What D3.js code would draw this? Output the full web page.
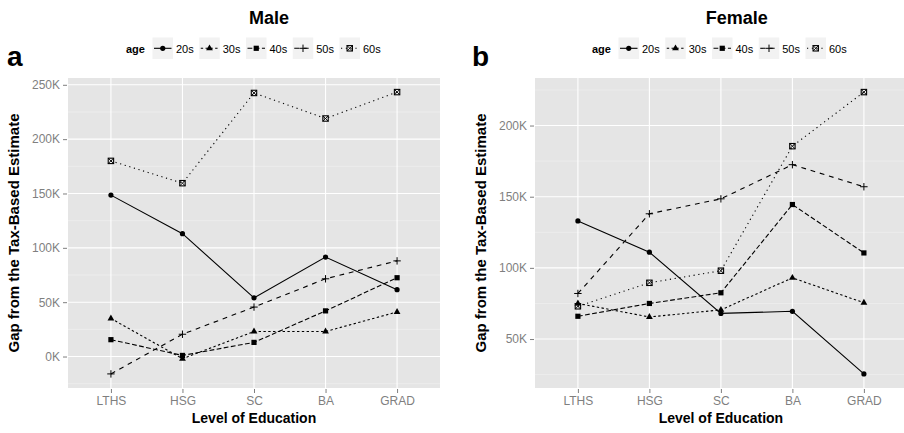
<!DOCTYPE html>
<html>
<head>
<meta charset="utf-8">
<script src="https://cdn.jsdelivr.net/npm/d3@7"></script>
<style>
  body { margin: 0; background: #fff; }
  svg { display: block; font-family: "Liberation Sans", Arial, Helvetica, sans-serif; }
</style>
</head>
<body>
<div id="chart"></div>
<script>
// Data (values in thousands)
const categories = ["LTHS", "HSG", "SC", "BA", "GRAD"];
const ages = ["20s", "30s", "40s", "50s", "60s"];

const male20s = [148.5, 113, 54, 91.5, 61.5];
const male30s = [35, -2, 23, 23, 41];
const male40s = [15.5, 1, 13, 42, 72.5];
const male50s = [-16, 20.5, 45.5, 71.5, 88];
const male60s = [180, 159.5, 242.5, 219, 243.3];

const female20s = [133, 111, 68, 69.5, 25.5];
const female30s = [75, 65.5, 70.5, 93, 75.5];
const female40s = [66, 75, 82.5, 144.5, 110.5];
const female50s = [82, 138, 148.5, 172.5, 157];
const female60s = [73, 89.5, 98, 185.5, 223.5];

const maleTicks = [0, 50, 100, 150, 200, 250];
const femaleTicks = [50, 100, 150, 200];

const dims = { width: 904, height: 433, top: 78, bottom: 388 };

// linetypes like ggplot's default palette: solid, 22, 42, 44, 13
const dashes = { "20s": null, "30s": "2.4,2.4", "40s": "4.8,2.4", "50s": "4.8,4.8", "60s": "1.2,3.6" };

const svg = d3.select("#chart")
  .append("svg")
  .attr("width", dims.width)
  .attr("height", dims.height);

function drawMarker(g, age, x, y) {
  const m = g.append("g").attr("transform", `translate(${x},${y})`);
  if (age === "20s") {
    m.append("circle").attr("r", 2.6).attr("fill", "#000");
  } else if (age === "30s") {
    m.append("path").attr("d", d3.symbol(d3.symbolTriangle, 20)()).attr("fill", "#000");
  } else if (age === "40s") {
    m.append("rect").attr("x", -2.6).attr("y", -2.6).attr("width", 5.2).attr("height", 5.2).attr("fill", "#000");
  } else if (age === "50s") {
    m.append("path").attr("d", "M-3.7,0H3.7M0,-3.7V3.7").attr("stroke", "#000").attr("stroke-width", 1);
  } else {
    m.append("rect").attr("x", -2.7).attr("y", -2.7).attr("width", 5.4).attr("height", 5.4)
      .attr("fill", "none").attr("stroke", "#000").attr("stroke-width", 1.1);
    m.append("path").attr("d", "M-2.7,-2.7L2.7,2.7M2.7,-2.7L-2.7,2.7")
      .attr("stroke", "#000").attr("stroke-width", 0.9);
  }
}

function drawPanel(opts) {
  const { x0, x1, series, ticks, title, letter, letterX, titleX, legendX, yTitleX } = opts;
  const g = svg.append("g");

  const all = series.flat();
  const [lo, hi] = d3.extent(all);
  const pad = (hi - lo) * 0.05;

  const x = d3.scalePoint().domain(categories).range([x0, x1]).padding(0.6);
  const y = d3.scaleLinear().domain([lo - pad, hi + pad]).range([dims.bottom, dims.top]);

  // panel background
  g.append("rect")
    .attr("x", x0).attr("y", dims.top)
    .attr("width", x1 - x0).attr("height", dims.bottom - dims.top)
    .attr("fill", "#E5E5E5");

  // minor grid
  const step = ticks[1] - ticks[0];
  const minor = d3.range(ticks[0] - step / 2, ticks[ticks.length - 1] + step, step)
    .filter((v) => v > lo - pad && v < hi + pad);
  g.selectAll("line.minor").data(minor).enter().append("line")
    .attr("x1", x0).attr("x2", x1)
    .attr("y1", (d) => y(d)).attr("y2", (d) => y(d))
    .attr("stroke", "#F2F2F2").attr("stroke-width", 0.6);

  // major grid
  g.selectAll("line.hmaj").data(ticks).enter().append("line")
    .attr("x1", x0).attr("x2", x1)
    .attr("y1", (d) => y(d)).attr("y2", (d) => y(d))
    .attr("stroke", "#fff").attr("stroke-width", 1.1);
  g.selectAll("line.vmaj").data(categories).enter().append("line")
    .attr("x1", (d) => x(d)).attr("x2", (d) => x(d))
    .attr("y1", dims.top).attr("y2", dims.bottom)
    .attr("stroke", "#fff").attr("stroke-width", 1.1);

  // axes
  const yAxis = g.append("g")
    .attr("transform", `translate(${x0 - 1},0)`)
    .call(d3.axisLeft(y).tickValues(ticks).tickFormat((d) => `${d}K`).tickSize(4).tickPadding(3));
  const xAxis = g.append("g")
    .attr("transform", `translate(0,${dims.bottom + 1})`)
    .call(d3.axisBottom(x).tickSize(4).tickPadding(3));
  [yAxis, xAxis].forEach((a) => {
    a.select(".domain").remove();
    a.selectAll(".tick line").attr("stroke", "#7F7F7F");
    a.selectAll(".tick text").attr("fill", "#7F7F7F").attr("font-size", "12px")
      .attr("font-family", "Liberation Sans, Arial, sans-serif");
  });

  // lines and points
  const line = d3.line().x((d, i) => x(categories[i])).y((d) => y(d));
  series.forEach((vals, k) => {
    const age = ages[k];
    g.append("path")
      .datum(vals)
      .attr("d", line)
      .attr("fill", "none")
      .attr("stroke", "#000")
      .attr("stroke-width", 1.1)
      .attr("stroke-dasharray", dashes[age]);
    vals.forEach((v, i) => drawMarker(g, age, x(categories[i]), y(v)));
  });

  // titles
  g.append("text")
    .attr("x", titleX).attr("y", 24)
    .attr("text-anchor", "middle")
    .attr("font-size", "18px").attr("font-weight", "bold")
    .text(title);
  g.append("text")
    .attr("x", letterX).attr("y", 66)
    .attr("font-size", "28px").attr("font-weight", "bold")
    .text(letter);
  g.append("text")
    .attr("x", (x0 + x1) / 2).attr("y", 423)
    .attr("text-anchor", "middle")
    .attr("font-size", "14px").attr("font-weight", "bold")
    .text("Level of Education");
  g.append("text")
    .attr("transform", `translate(${yTitleX},${(dims.top + dims.bottom) / 2}) rotate(-90)`)
    .attr("text-anchor", "middle")
    .attr("dy", "0.35em")
    .attr("font-size", "15px").attr("font-weight", "bold")
    .text("Gap from the Tax-Based Estimate");

  // legend
  const lg = g.append("g").attr("transform", `translate(${legendX},0)`);
  lg.append("text").attr("x", 0).attr("y", 52.5)
    .attr("font-size", "11px").attr("font-weight", "bold").text("age");
  ages.forEach((age, k) => {
    const bx = 26.5 + k * 46.75;
    lg.append("rect").attr("x", bx).attr("y", 37.5).attr("width", 20.5).attr("height", 21.5)
      .attr("fill", "#F2F2F2");
    lg.append("line").attr("x1", bx + 1.5).attr("x2", bx + 19).attr("y1", 48.3).attr("y2", 48.3)
      .attr("stroke", "#000").attr("stroke-width", 1.1).attr("stroke-dasharray", dashes[age]);
    drawMarker(lg, age, bx + 10.25, 48.3);
    lg.append("text").attr("x", bx + 23.5).attr("y", 52.5)
      .attr("font-size", "11px").attr("fill", "#000").text(age);
  });
}

drawPanel({
  x0: 68, x1: 440,
  series: [male20s, male30s, male40s, male50s, male60s],
  ticks: maleTicks,
  title: "Male", letter: "a", letterX: 7, titleX: 269, legendX: 126, yTitleX: 14,
});

drawPanel({
  x0: 535, x1: 906.8,
  series: [female20s, female30s, female40s, female50s, female60s],
  ticks: femaleTicks,
  title: "Female", letter: "b", letterX: 472, titleX: 736.7, legendX: 592, yTitleX: 480.5,
});
</script>
</body>
</html>
